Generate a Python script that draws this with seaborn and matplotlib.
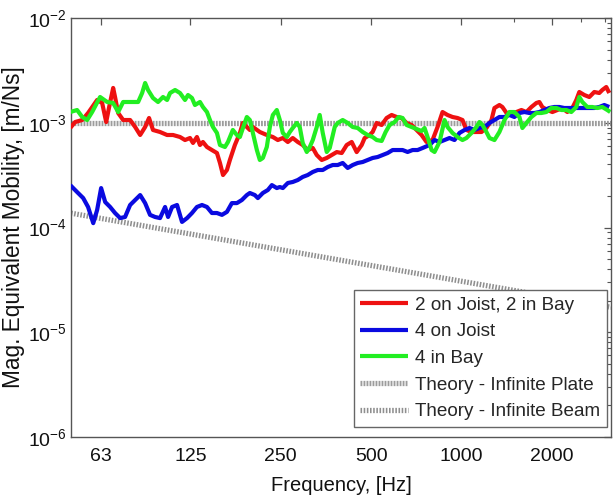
import numpy as np
import pandas as pd
import matplotlib
matplotlib.use("Agg")
import matplotlib.pyplot as plt
import matplotlib.ticker as mticker
import seaborn as sns

# Measured equivalent mobility, stored in mm/Ns (= 1e-3 m/Ns)
red_freq = [49.7, 51.6, 54.5, 57.0, 61.1, 63.5, 65.5, 67.0, 69.1, 70.1,
            71.8, 74.6, 78.7, 81.8, 85.0, 88.3, 91.0, 93.8, 99.0, 104.5,
            109.4, 115.4, 119.9, 124.6, 127.5, 131.4, 134.5, 137.6, 141.9, 147.4,
            153.2, 156.8, 160.5, 165.4, 169.2, 175.8, 182.7, 187.0, 192.7, 197.2,
            201.8, 212.9, 224.6, 235.3, 244.4, 254.0, 263.9, 274.1, 284.9, 295.9,
            307.5, 319.6, 329.5, 342.3, 355.7, 369.6, 384.1, 399.0, 414.6, 430.8,
            447.6, 465.1, 475.8, 494.4, 505.9, 521.7, 542.1, 563.2, 585.2, 608.1,
            631.7, 656.4, 682.1, 708.7, 736.3, 765.1, 801.1, 832.4, 864.9, 898.7,
            933.8, 970.2, 1008, 1039, 1080, 1122, 1166, 1211, 1259, 1288,
            1338, 1369, 1413, 1467, 1524, 1584, 1646, 1710, 1777, 1818,
            1860, 1933, 2009, 2088, 2168, 2253, 2341, 2414, 2470, 2567,
            2667, 2771, 2879, 2946, 3038, 3108]
red_mob = [0.891, 1.016, 1.062, 1.239, 1.649, 1.545, 1.016, 1.413, 2.148, 1.761,
           1.239, 1.062, 1.062, 0.911, 0.764, 0.911, 1.110, 0.853, 0.816, 0.764,
           0.764, 0.731, 0.684, 0.715, 0.641, 0.731, 0.613, 0.655, 0.587, 0.549,
           0.514, 0.413, 0.317, 0.354, 0.441, 0.613, 0.798, 0.995, 0.911, 0.853,
           0.911, 0.816, 0.764, 0.731, 0.684, 0.715, 0.655, 0.715, 0.655, 0.613,
           0.549, 0.574, 0.492, 0.441, 0.461, 0.492, 0.525, 0.514, 0.613, 0.655,
           0.525, 0.613, 0.715, 0.764, 0.816, 0.995, 0.952, 1.110, 1.186, 1.135,
           1.110, 0.995, 0.952, 0.853, 0.764, 0.655, 0.684, 0.911, 1.266, 1.186,
           1.135, 1.110, 1.062, 0.853, 0.816, 0.816, 0.816, 0.891, 1.062, 1.382,
           1.477, 1.413, 1.239, 1.239, 1.266, 1.323, 1.266, 1.413, 1.545, 1.578,
           1.413, 1.323, 1.266, 1.323, 1.382, 1.266, 1.382, 1.649, 1.966, 1.840,
           1.761, 1.966, 1.923, 2.054, 2.194, 1.923]

blue_freq = [49.7, 52.4, 54.9, 57.0, 59.3, 61.1, 63.0, 65.0, 67.5, 70.1,
             72.9, 75.7, 78.7, 81.8, 85.0, 88.3, 91.7, 95.3, 99.0, 102.9,
             105.3, 108.6, 112.8, 117.2, 121.8, 126.5, 131.4, 136.6, 141.9, 147.4,
             153.2, 159.2, 165.4, 171.8, 178.5, 185.5, 192.7, 197.2, 204.9, 209.7,
             217.9, 226.4, 233.5, 242.5, 248.2, 254.0, 263.9, 274.1, 284.9, 295.9,
             307.5, 319.6, 332.1, 345.0, 358.5, 372.5, 387.0, 402.1, 417.8, 434.1,
             451.1, 468.7, 486.9, 505.9, 525.7, 546.2, 567.5, 589.7, 612.8, 636.6,
             661.5, 687.4, 714.2, 742.0, 782.9, 813.4, 845.2, 878.2, 912.5, 948.1,
             985.1, 1024, 1064, 1105, 1148, 1193, 1240, 1288, 1338, 1391,
             1445, 1501, 1560, 1621, 1684, 1750, 1818, 1889, 1963, 2040,
             2119, 2202, 2288, 2377, 2470, 2567, 2667, 2771, 2879, 2992, 3108]
blue_mob = [0.254, 0.218, 0.191, 0.157, 0.110, 0.147, 0.238, 0.175, 0.157, 0.1375,
            0.123, 0.126, 0.164, 0.183, 0.204, 0.171, 0.132, 0.126, 0.123, 0.157,
            0.126, 0.157, 0.164, 0.113, 0.123, 0.1375, 0.157, 0.164, 0.157, 0.1375,
            0.1375, 0.132, 0.141, 0.171, 0.171, 0.183, 0.204, 0.2135, 0.204, 0.191,
            0.2135, 0.228, 0.254, 0.238, 0.2435, 0.238, 0.266, 0.272, 0.284, 0.304,
            0.317, 0.339, 0.354, 0.354, 0.378, 0.395, 0.395, 0.413, 0.370, 0.395,
            0.413, 0.422, 0.441, 0.461, 0.471, 0.492, 0.514, 0.549, 0.549, 0.549,
            0.526, 0.549, 0.549, 0.574, 0.613, 0.684, 0.655, 0.684, 0.715, 0.684,
            0.799, 0.853, 0.891, 0.853, 0.891, 0.911, 0.995, 1.062, 1.135, 1.135,
            1.186, 1.135, 1.239, 1.266, 1.239, 1.239, 1.266, 1.323, 1.383, 1.414,
            1.414, 1.383, 1.383, 1.383, 1.383, 1.383, 1.383, 1.383, 1.414, 1.477, 1.414]

green_freq = [49.7, 52.4, 54.5, 56.6, 58.8, 62.5, 66.0, 69.1, 71.8, 74.6,
              79.9, 83.7, 86.3, 88.3, 90.3, 93.8, 97.5, 101.3, 104.5, 106.9,
              111.1, 115.4, 119.9, 122.7, 126.5, 129.4, 134.5, 137.6, 141.9, 145.2,
              148.6, 153.2, 156.8, 162.9, 166.7, 173.1, 178.5, 182.7, 187.0, 192.7,
              197.2, 201.8, 208.1, 212.9, 217.9, 224.6, 229.9, 235.3, 242.5, 248.2,
              254.0, 261.9, 267.9, 274.1, 282.7, 289.2, 295.9, 305.2, 312.3, 319.6,
              329.5, 337.1, 345.0, 355.7, 364.0, 378.2, 387.0, 402.1, 417.8, 434.1,
              451.1, 468.7, 486.9, 505.9, 521.7, 542.1, 558.9, 576.3, 598.8, 617.5,
              636.6, 656.4, 682.1, 708.7, 736.3, 753.4, 776.9, 795.0, 813.4, 845.2,
              878.2, 898.7, 933.8, 970.2, 1008, 1039, 1080, 1122, 1148, 1175,
              1211, 1240, 1288, 1338, 1391, 1445, 1501, 1560, 1596, 1646,
              1710, 1777, 1846, 1918, 1993, 2072, 2152, 2236, 2323, 2414,
              2470, 2528, 2627, 2729, 2836, 2946, 3062, 3132]
green_mob = [1.266, 1.323, 1.135, 1.062, 1.266, 1.761, 1.578, 1.544, 1.266, 1.578,
             1.578, 1.578, 1.923, 2.396, 2.054, 1.723, 1.578, 1.761, 1.649, 1.923,
             2.054, 1.923, 1.649, 1.840, 1.723, 1.477, 1.578, 1.414, 1.266, 1.062,
             0.911, 0.799, 0.613, 0.587, 0.655, 0.853, 0.764, 0.731, 0.891, 1.135,
             1.062, 0.799, 0.549, 0.441, 0.461, 0.587, 0.911, 1.186, 1.323, 1.062,
             0.799, 0.731, 0.816, 0.891, 0.995, 0.911, 0.641, 0.526, 0.587, 0.684,
             0.911, 1.186, 0.799, 0.526, 0.574, 0.911, 0.995, 1.062, 0.995, 0.911,
             0.891, 0.816, 0.764, 0.731, 0.684, 0.670, 0.816, 0.952, 1.016, 1.135,
             1.110, 0.952, 0.911, 0.872, 0.834, 0.891, 0.684, 0.549, 0.526, 0.655,
             1.062, 0.911, 0.799, 0.731, 0.684, 0.715, 0.799, 0.911, 1.016, 0.952,
             0.816, 0.715, 0.684, 0.816, 1.062, 1.266, 1.266, 1.135, 0.891, 0.995,
             1.135, 1.239, 1.239, 1.266, 1.383, 1.383, 1.323, 1.323, 1.266, 1.414,
             1.761, 1.578, 1.414, 1.414, 1.383, 1.414, 1.323, 1.266]

# Theoretical driving-point mobilities
plate_freq = [50, 3150]
plate_mob = [1.0, 1.0]
beam_freq = [50, 3150]
beam_mob = [0.137, 0.0173]

freq_ticks = [63, 125, 250, 500, 1000, 2000]
freq_tick_labels = ["63", "125", "250", "500", "1000", "2000"]
freq_minor_ticks = [1500, 2500, 3000]

series_names = ["2 on Joist, 2 in Bay", "4 on Joist", "4 in Bay",
                "Theory - Infinite Plate", "Theory - Infinite Beam"]

sns.set_theme(style="white")
plt.rcParams["font.family"] = ["Liberation Sans", "DejaVu Sans"]
plt.rcParams["mathtext.default"] = "regular"


def frame(freq, mob, name):
    return pd.DataFrame({"freq": freq,
                         "mob": np.asarray(mob) * 1e-3,
                         "series": name})


fig = plt.figure(figsize=(6.13, 4.97), dpi=100)
ax = fig.add_axes([71 / 613, 60 / 497, 540 / 613, 419 / 497])
ax.set_xscale("log")
ax.set_yscale("log")

styles = {
    series_names[3]: dict(color="#9c9c9c", lw=3.8, ls=(0, (0.35, 0.22)), zorder=2),
    series_names[4]: dict(color="#8f8f8f", lw=3.8, ls=(0, (0.3, 0.3)), zorder=2),
    series_names[0]: dict(color="#ee1111", lw=3.0, ls="-", zorder=3),
    series_names[1]: dict(color="#0a0ae0", lw=3.0, ls="-", zorder=3),
    series_names[2]: dict(color="#22ee22", lw=3.0, ls="-", zorder=3),
}
data = {
    series_names[0]: frame(red_freq, red_mob, series_names[0]),
    series_names[1]: frame(blue_freq, blue_mob, series_names[1]),
    series_names[2]: frame(green_freq, green_mob, series_names[2]),
    series_names[3]: frame(plate_freq, plate_mob, series_names[3]),
    series_names[4]: frame(beam_freq, beam_mob, series_names[4]),
}

draw_order = [series_names[3], series_names[4], series_names[0],
              series_names[1], series_names[2]]
for name in draw_order:
    st = styles[name]
    sns.lineplot(data=data[name], x="freq", y="mob", ax=ax, sort=False,
                 estimator=None, color=st["color"], linewidth=st["lw"],
                 linestyle=st["ls"], zorder=st["zorder"], label=name,
                 solid_capstyle="butt")

ax.set_xlim(50, 3150)
ax.set_ylim(1e-6, 1e-2)

ax.xaxis.set_major_locator(mticker.FixedLocator(freq_ticks))
ax.xaxis.set_major_formatter(mticker.FixedFormatter(freq_tick_labels))
ax.xaxis.set_minor_locator(mticker.FixedLocator(freq_minor_ticks))
ax.xaxis.set_minor_formatter(mticker.NullFormatter())
ax.yaxis.set_major_locator(mticker.LogLocator(base=10, numticks=10))
ax.yaxis.set_minor_locator(mticker.LogLocator(base=10, subs=np.arange(2, 10), numticks=20))
ax.yaxis.set_minor_formatter(mticker.NullFormatter())

ax.tick_params(which="both", direction="in", top=True, right=True,
               colors="#555555", labelcolor="#111111", labelsize=14)
ax.tick_params(which="major", length=5, width=0.9)
ax.tick_params(which="minor", length=3, width=0.8)
ax.tick_params(axis="x", pad=8)
ax.tick_params(axis="y", pad=3)
for sp in ax.spines.values():
    sp.set_color("#555555")
    sp.set_linewidth(1.0)

ax.set_xlabel("Frequency, [Hz]", fontsize=14.5, color="#111111", labelpad=8)
ax.set_ylabel("Mag. Equivalent Mobility, [m/Ns]", fontsize=16.3, color="#111111",
              labelpad=2)

handles, labels = ax.get_legend_handles_labels()
order = [labels.index(n) for n in series_names]
leg = ax.legend([handles[i] for i in order], [labels[i] for i in order],
                loc="lower right", bbox_to_anchor=(0.9926, 0.024),
                borderaxespad=0, fontsize=13.6, frameon=True, fancybox=False,
                framealpha=1, edgecolor="#666666", handlelength=2.5,
                handletextpad=0.4, labelspacing=0.5, borderpad=0.35)
leg.get_frame().set_linewidth(1.0)

fig.savefig("out.png", dpi=100)
